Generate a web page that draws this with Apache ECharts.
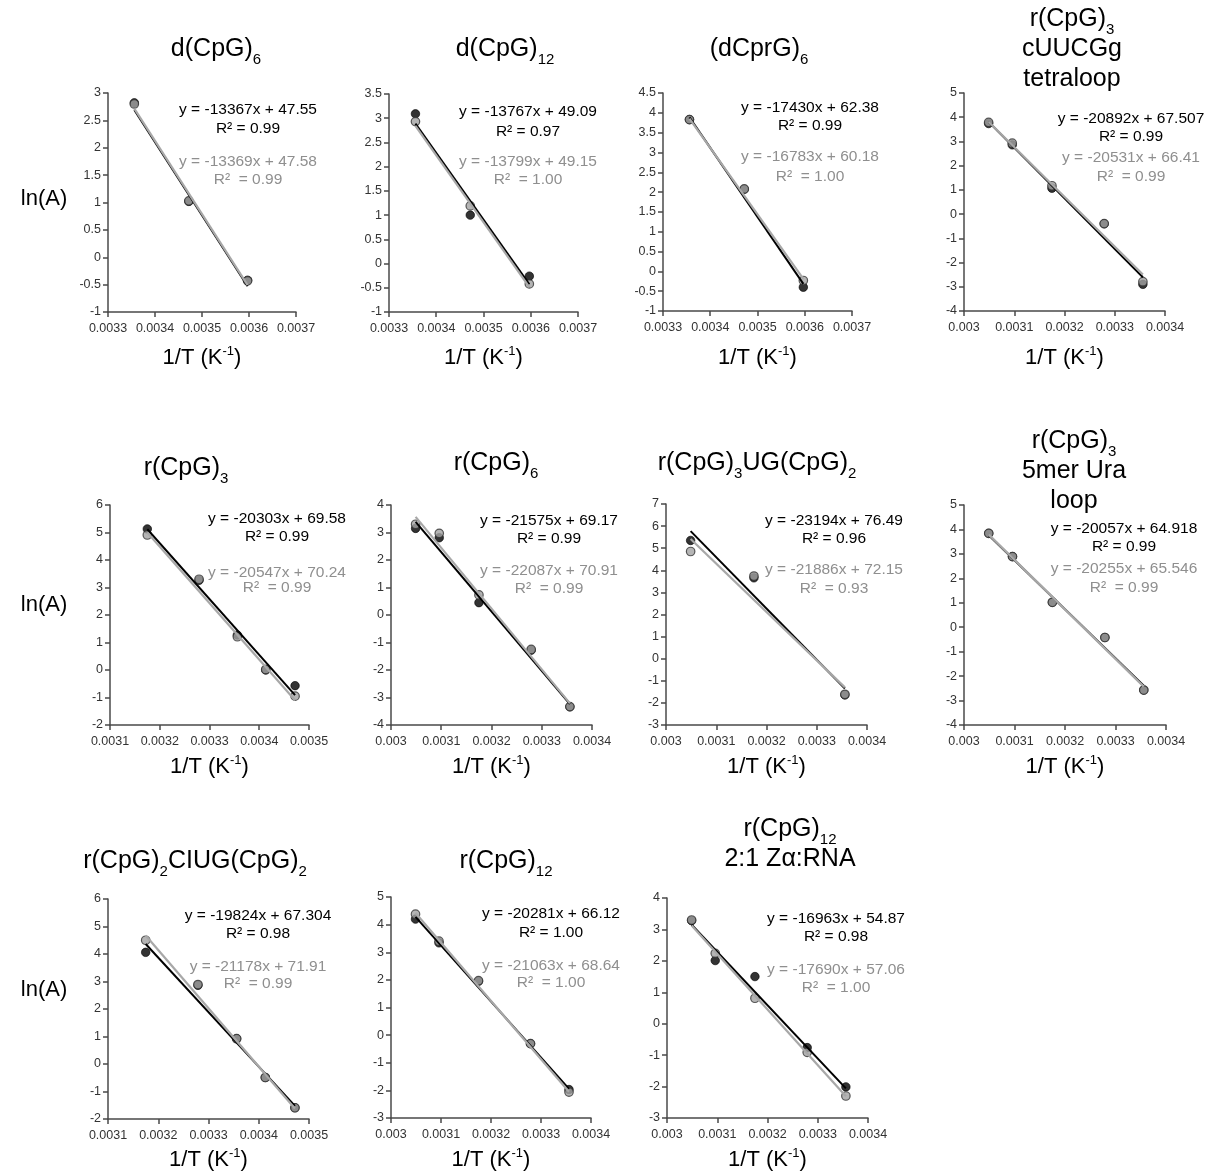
<!DOCTYPE html>
<html><head><meta charset="utf-8">
<script src="https://cdn.jsdelivr.net/npm/echarts@6/dist/echarts.min.js"></script>
<style>html,body{margin:0;padding:0;background:#fff}#c{width:1208px;height:1171px}</style>
</head><body><div id="c"></div>
<script>
const FONT = '"Liberation Sans", Arial, Helvetica, sans-serif';

// ---------- DATA ----------
const panelTitles = [
  '{m|d(CpG)}{s|6}',
  '{m|d(CpG)}{s|12}',
  '{m|(dCprG)}{s|6}',
  '{m|r(CpG)}{s|3}\n{m|cUUCGg}\n{m|tetraloop}',
  '{m|r(CpG)}{s|3}',
  '{m|r(CpG)}{s|6}',
  '{m|r(CpG)}{s|3}{m|UG(CpG)}{s|2}',
  '{m|r(CpG)}{s|3}\n{m|5mer Ura}\n{m|loop}',
  '{m|r(CpG)}{s|2}{m|CIUG(CpG)}{s|2}',
  '{m|r(CpG)}{s|12}',
  '{m|r(CpG)}{s|12}\n{m|2:1 Zα:RNA}'
];

// 1/T values (K^-1) per panel
const xValues = [
  [0.003356, 0.003472, 0.003597],
  [0.003356, 0.003472, 0.003597],
  [0.003356, 0.003472, 0.003597],
  [0.003049, 0.003096, 0.003175, 0.003279, 0.003356],
  [0.003175, 0.003279, 0.003356, 0.003413, 0.003472],
  [0.003049, 0.003096, 0.003175, 0.003279, 0.003356],
  [0.003049, 0.003175, 0.003356],
  [0.003049, 0.003096, 0.003175, 0.003279, 0.003356],
  [0.003175, 0.003279, 0.003356, 0.003413, 0.003472],
  [0.003049, 0.003096, 0.003175, 0.003279, 0.003356],
  [0.003049, 0.003096, 0.003175, 0.003279, 0.003356]
];

// ln(A), black series
const blackValues = [
  [2.82, 1.02, -0.42],
  [3.09, 1.00, -0.26],
  [3.83, 2.07, -0.40],
  [3.74, 2.86, 1.07, -0.40, -2.90],
  [5.13, 3.26, 1.27, 0.00, -0.57],
  [3.15, 2.81, 0.45, -1.28, -3.34],
  [5.35, 3.66, -1.64],
  [3.84, 2.89, 1.02, -0.42, -2.57],
  [4.06, 2.86, 0.92, -0.49, -1.59],
  [4.20, 3.34, 1.95, -0.31, -1.97],
  [3.28, 2.01, 1.50, -0.76, -2.01]
];

// ln(A), grey series
const greyValues = [
  [2.80, 1.03, -0.43],
  [2.93, 1.19, -0.42],
  [3.83, 2.08, -0.23],
  [3.79, 2.93, 1.17, -0.39, -2.79],
  [4.91, 3.30, 1.21, 0.02, -0.95],
  [3.30, 2.97, 0.73, -1.25, -3.33],
  [4.85, 3.74, -1.61],
  [3.84, 2.89, 1.02, -0.42, -2.57],
  [4.50, 2.89, 0.92, -0.49, -1.59],
  [4.38, 3.40, 1.97, -0.31, -2.06],
  [3.30, 2.24, 0.81, -0.91, -2.30]
];

// linear fits as printed on the chart
const blackSlope     = [-13367, -13767, -17430, -20892, -20303, -21575, -23194, -20057, -19824, -20281, -16963];
const blackIntercept = [47.55, 49.09, 62.38, 67.507, 69.58, 69.17, 76.49, 64.918, 67.304, 66.12, 54.87];
const blackR2        = ['0.99', '0.97', '0.99', '0.99', '0.99', '0.99', '0.96', '0.99', '0.98', '1.00', '0.98'];
const greySlope      = [-13369, -13799, -16783, -20531, -20547, -22087, -21886, -20255, -21178, -21063, -17690];
const greyIntercept  = [47.58, 49.15, 60.18, 66.41, 70.24, 70.91, 72.15, 65.546, 71.91, 68.64, 57.06];
const greyR2         = ['0.99', '1.00', '1.00', '0.99', '0.99', '0.99', '0.93', '0.99', '0.99', '1.00', '1.00'];

// axis ranges / tick steps
const xMin  = [0.0033, 0.0033, 0.0033, 0.0030, 0.0031, 0.0030, 0.0030, 0.0030, 0.0031, 0.0030, 0.0030];
const xMax  = [0.0037, 0.0037, 0.0037, 0.0034, 0.0035, 0.0034, 0.0034, 0.0034, 0.0035, 0.0034, 0.0034];
const xStep = 0.0001;
const yMin  = [-1, -1, -1, -4, -2, -4, -3, -4, -2, -3, -3];
const yMax  = [3, 3.5, 4.5, 5, 6, 4, 7, 5, 6, 5, 4];
const yStep = [0.5, 0.5, 0.5, 1, 1, 1, 1, 1, 1, 1, 1];

const xAxisTitle = '{a|1/T (K}{b|-1}{a|)}';
const yAxisTitle = 'ln(A)';

// ---------- LAYOUT ----------
const gridBoxes = [
  [108, 93, 188, 219], [389, 94, 189, 218], [663, 93, 189, 218], [964, 93, 201, 218],
  [110, 505, 199, 220], [391, 505, 201, 220], [666, 504, 201, 221], [964, 505, 202, 220],
  [108, 899, 201, 220], [391, 897, 200, 221], [667, 898, 201, 220]
];
const titlePos = [
  [216, 52], [505, 52], [759, 52], [1072, 52],
  [186, 471], [496, 466], [757, 466], [1074, 474],
  [195, 864], [506, 864], [790, 847]
];
// [centerX, blackEqY, blackR2Y, greyEqY, greyR2Y]
const eqPos = [
  [248, 110, 129, 162, 180], [528, 112, 132, 162, 180], [810, 108, 126, 157, 177], [1131, 119, 137, 158, 177],
  [277, 519, 537, 573, 588], [549, 521, 539, 571, 589], [834, 521, 539, 570, 589], [1124, 529, 547, 569, 588],
  [258, 916, 934, 967, 984], [551, 914, 933, 966, 983], [836, 919, 937, 970, 988]
];
const xTitleY = [357, 357, 357, 357, 766, 766, 766, 766, 1159, 1159, 1159];
const yTitlePos = [[44, 199], [44, 605], [44, 990]];

const GREY_TEXT = '#8f8f8f';
const GREY_LINE = '#a8a8a8';
const AXIS_COL = '#4a4a4a';

const grids = [], xAxes = [], yAxes = [], series = [], graphics = [];

const titleRich = {
  m: { fontSize: 25, fontFamily: FONT, lineHeight: 30, verticalAlign: 'top', color: '#000' },
  s: { fontSize: 15, fontFamily: FONT, lineHeight: 15, verticalAlign: 'bottom', color: '#000' }
};
const axRich = {
  a: { fontSize: 22, fontFamily: FONT, lineHeight: 24, verticalAlign: 'bottom', color: '#000' },
  b: { fontSize: 13, fontFamily: FONT, lineHeight: 13, verticalAlign: 'top', color: '#000' }
};

function txt(x, y, text, font, fill, rich) {
  const st = { text, font, fill, align: 'center', verticalAlign: 'middle' };
  if (rich) st.rich = rich;
  return { type: 'text', x, y, silent: true, z: 100, style: st };
}

for (let i = 0; i < xValues.length; i++) {
  const g = gridBoxes[i];
  grids.push({ left: g[0], top: g[1], width: g[2], height: g[3], containLabel: false });
  xAxes.push({
    type: 'value', gridIndex: i, min: xMin[i], max: xMax[i], interval: xStep,
    axisLine: { show: true, onZero: false, lineStyle: { color: AXIS_COL, width: 1.5 } },
    axisTick: { show: true, length: 5, lineStyle: { color: AXIS_COL, width: 1.5 } },
    splitLine: { show: false },
    axisLabel: { color: '#333', fontSize: 12.5, fontFamily: FONT, margin: 10,
      formatter: v => String(parseFloat(v.toFixed(4))) }
  });
  yAxes.push({
    type: 'value', gridIndex: i, min: yMin[i], max: yMax[i], interval: yStep[i],
    axisLine: { show: true, onZero: false, lineStyle: { color: AXIS_COL, width: 1.5 } },
    axisTick: { show: true, length: 5, lineStyle: { color: AXIS_COL, width: 1.5 } },
    splitLine: { show: false },
    axisLabel: { color: '#333', fontSize: 12.5, fontFamily: FONT, margin: 7,
      formatter: v => String(parseFloat(v.toFixed(2))) }
  });

  const xs = xValues[i];
  const x0 = Math.min(...xs), x1 = Math.max(...xs);
  series.push({
    type: 'scatter', xAxisIndex: i, yAxisIndex: i, z: 2, symbolSize: 8.5,
    data: xs.map((x, j) => [x, blackValues[i][j]]),
    itemStyle: { color: '#000', borderColor: '#000', borderWidth: 0.8 }
  });
  series.push({
    type: 'scatter', xAxisIndex: i, yAxisIndex: i, z: 3, symbolSize: 8.5,
    data: xs.map((x, j) => [x, greyValues[i][j]]),
    itemStyle: { color: '#a3a3a3', borderColor: '#333', borderWidth: 1.2 }
  });
  series.push({
    type: 'line', xAxisIndex: i, yAxisIndex: i, z: 4, showSymbol: false, silent: true,
    data: [[x0, blackSlope[i] * x0 + blackIntercept[i]], [x1, blackSlope[i] * x1 + blackIntercept[i]]],
    lineStyle: { color: '#000', width: 2 }
  });
  series.push({
    type: 'line', xAxisIndex: i, yAxisIndex: i, z: 5, showSymbol: false, silent: true,
    data: [[x0, greySlope[i] * x0 + greyIntercept[i]], [x1, greySlope[i] * x1 + greyIntercept[i]]],
    lineStyle: { color: GREY_LINE, width: 2.2 }
  });

  // texts
  const tp = titlePos[i];
  graphics.push(txt(tp[0], tp[1], panelTitles[i], '25px ' + FONT, '#000', titleRich));
  const e = eqPos[i];
  const eqFont = '15.5px ' + FONT;
  graphics.push(txt(e[0], e[1], 'y = ' + blackSlope[i] + 'x + ' + blackIntercept[i], eqFont, '#000'));
  graphics.push(txt(e[0], e[2], 'R² = ' + blackR2[i], eqFont, '#000'));
  graphics.push(txt(e[0], e[3], 'y = ' + greySlope[i] + 'x + ' + greyIntercept[i], eqFont, GREY_TEXT));
  graphics.push(txt(e[0], e[4], 'R²  = ' + greyR2[i], eqFont, GREY_TEXT));
  graphics.push(txt(g[0] + g[2] / 2, xTitleY[i], xAxisTitle, '22px ' + FONT, '#000', axRich));
}
yTitlePos.forEach(p => graphics.push(txt(p[0], p[1], yAxisTitle, '22px ' + FONT, '#000')));

const chart = echarts.init(document.getElementById('c'), null, { renderer: 'canvas' });
chart.setOption({
  animation: false,
  backgroundColor: '#fff',
  grid: grids, xAxis: xAxes, yAxis: yAxes, series,
  graphic: { elements: graphics }
});
</script></body></html>
